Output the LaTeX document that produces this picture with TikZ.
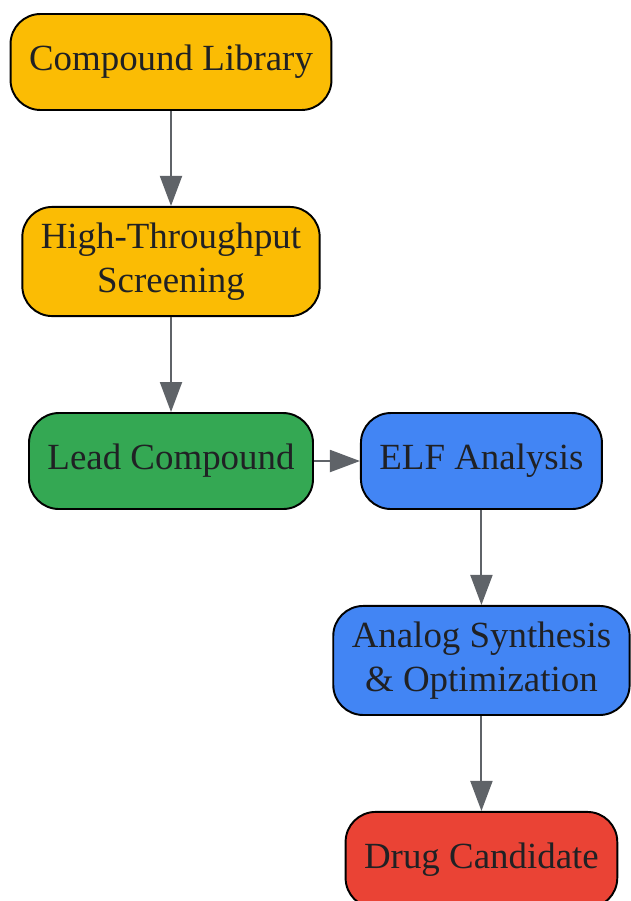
\documentclass[tikz,border=0pt]{standalone}
\usepackage{fontspec}
\setmainfont{Liberation Serif}
\usepackage{tikz}
\usetikzlibrary{arrows.meta,positioning,calc}

\definecolor{gyellow}{HTML}{FBBC04}
\definecolor{ggreen}{HTML}{34A853}
\definecolor{gblue}{HTML}{4285F4}
\definecolor{gred}{HTML}{EA4335}
\definecolor{ggray}{HTML}{5F6368}
\definecolor{gtext}{HTML}{202124}

\begin{document}
\begin{tikzpicture}[->, >={Triangle[length=0.6cm,width=0.44cm]}, auto, node distance=1.9cm]
    \tikzstyle{stage}=[draw=black,line width=1.1pt,rounded corners=0.6cm,text=gtext,
        align=center,font=\fontsize{21}{24.8}\selectfont,
        inner xsep=0.37cm,inner ysep=0.32cm,minimum height=1.92cm]
    \tikzstyle{every edge}=[draw=ggray,line width=1.1pt]

    \useasboundingbox (0,0) rectangle (12.6,-18.02);

    \node[stage,fill=gyellow] (library) at (3.42,-1.24) {Compound Library}; %start
    \node[stage,fill=gyellow] (hts)[below=of library] {High-Throughput\\Screening};
    \node[stage,fill=ggreen] (lead)[below=of hts] {Lead Compound};
    \node[stage,fill=gblue] (elf)[right=0.92cm of lead] {ELF Analysis};
    \node[stage,fill=gblue] (analog)[below=of elf] {Analog Synthesis\\\& Optimization};
    \node[stage,fill=gred] (drug)[below=of analog] {Drug Candidate}; %end

    % edges
    \path (library) edge (hts);
    \path (hts) edge (lead);
    \path (lead) edge (elf);
    \path (elf) edge (analog);
    \path (analog) edge (drug);

\end{tikzpicture}
\end{document}
